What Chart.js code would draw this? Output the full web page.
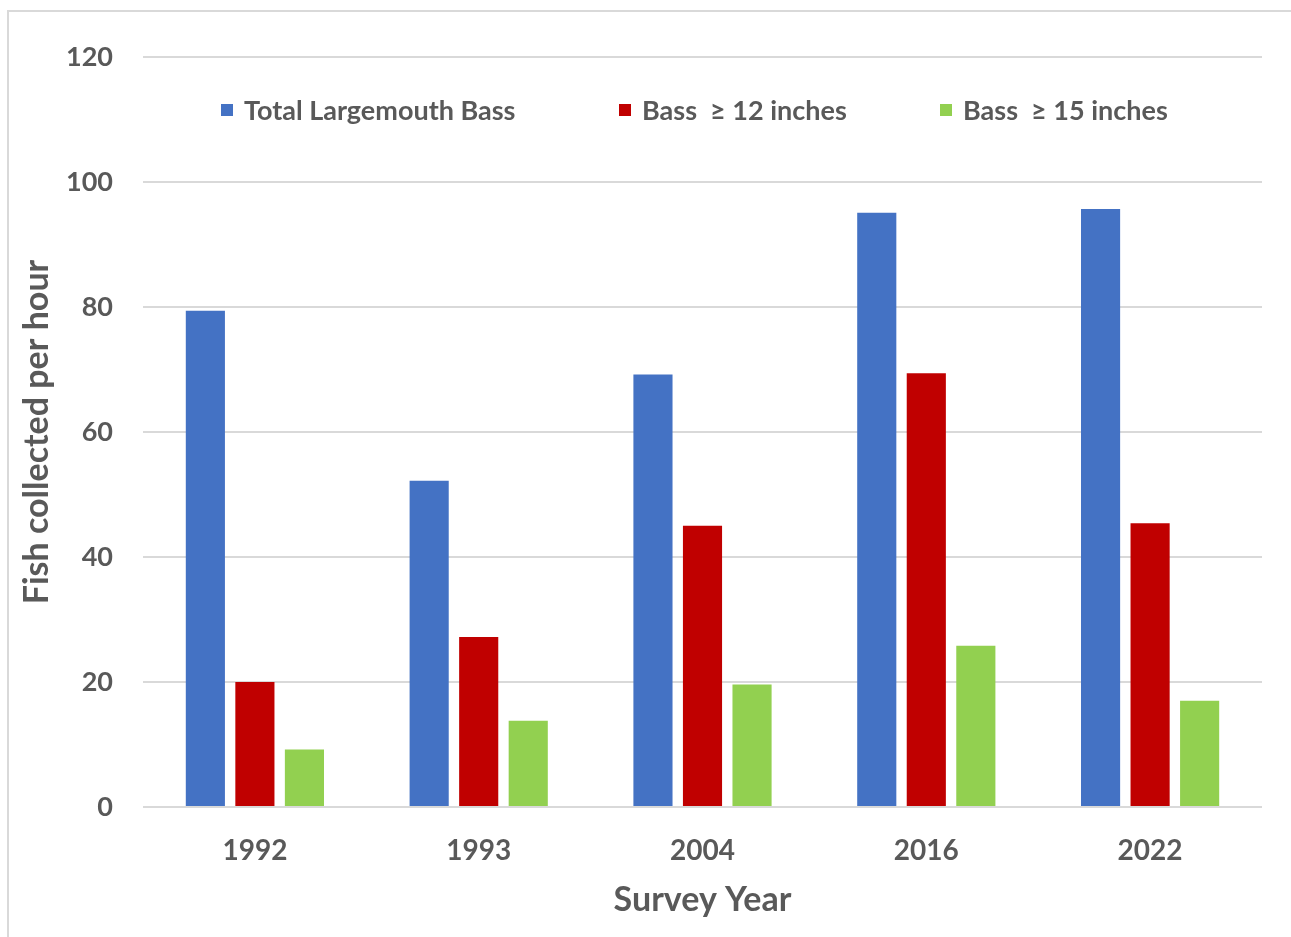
<!DOCTYPE html>
<html>
<head>
<meta charset="utf-8">
<script src="https://cdn.jsdelivr.net/npm/chart.js@4"></script>
<style>
    body { margin: 0; background: #fff; }
    #wrap { position: relative; width: 1291px; height: 937px; overflow: hidden; }
    #frame { position: absolute; left: 7px; top: 10px; width: 1300px; height: 940px; border: 2px solid #d9d9d9; box-sizing: border-box; }
    canvas { position: absolute; left: 0; top: 0; }
    #legend { position: absolute; top: 94px; left: 0; font-family: Lato, sans-serif; font-weight: bold; font-size: 27px; color: #595959; }
    .item { position: absolute; white-space: pre; line-height: 32px; }
    .swatch { position: absolute; width: 12px; height: 12px; top: 10px; }
</style>
</head>
<body>
<div id="wrap">
    <div id="frame"></div>
    <canvas id="chart" width="1291" height="937"></canvas>
    <div id="legend"></div>
</div>
<script>
// data
const years = ['1992', '1993', '2004', '2016', '2022']
const totalBass = [79.4, 52.2, 69.2, 95.1, 95.7]
const bass12 = [20.0, 27.2, 45.0, 69.4, 45.4]
const bass15 = [9.2, 13.8, 19.6, 25.8, 17.0]
const seriesLabels = ['Total Largemouth Bass', 'Bass  \u2265 12 inches', 'Bass  \u2265 15 inches']
const seriesColors = ['#4472C4', '#C00000', '#92D050']

const textColor = '#595959'
const gridColor = '#d9d9d9'

// legend sits inside the plot, so draw it as html on top
const legendSpots = [221, 619, 940]
const legend = document.getElementById('legend')
seriesLabels.forEach((label, i) => {
    const item = document.createElement('div')
    item.className = 'item'
    item.style.left = legendSpots[i] + 'px'
    item.innerHTML = `<span class="swatch" style="background:${seriesColors[i]}"></span><span style="margin-left:23px">${label}</span>`
    legend.appendChild(item)
})

const ctx = document.getElementById('chart').getContext('2d')
new Chart(ctx, {
    type: 'bar',
    data: {
        labels: years,
        datasets: [totalBass, bass12, bass15].map((values, i) => ({
            label: seriesLabels[i],
            data: values,
            backgroundColor: seriesColors[i],
            categoryPercentage: 0.664,
            barPercentage: 0.79
        }))
    },
    options: {
        responsive: false,
        animation: false,
        layout: { padding: { left: 0, top: 57, right: 29, bottom: 0 } },
        plugins: {
            legend: { display: false },
            tooltip: { enabled: false }
        },
        scales: {
            x: {
                grid: { display: false },
                border: { display: false },
                ticks: {
                    color: textColor,
                    padding: 19,
                    font: { family: 'Lato', weight: 'bold', size: 28 }
                },
                title: {
                    display: true,
                    text: 'Survey Year',
                    color: textColor,
                    padding: { top: 0, bottom: 17 },
                    font: { family: 'Lato', weight: 'bold', size: 34 }
                },
                afterFit: (scale) => { scale.height = 130 }
            },
            y: {
                min: 0,
                max: 120,
                ticks: {
                    stepSize: 20,
                    color: textColor,
                    padding: 30,
                    font: { family: 'Lato', weight: 'bold', size: 27 }
                },
                grid: { color: gridColor, lineWidth: 2, drawTicks: false },
                border: { display: false },
                title: {
                    display: true,
                    text: 'Fish collected per hour',
                    color: textColor,
                    padding: { top: 17, bottom: 0 },
                    font: { family: 'Lato', weight: 'bold', size: 34 }
                },
                afterFit: (scale) => { scale.width = 143 }
            }
        }
    }
})
</script>
</body>
</html>
